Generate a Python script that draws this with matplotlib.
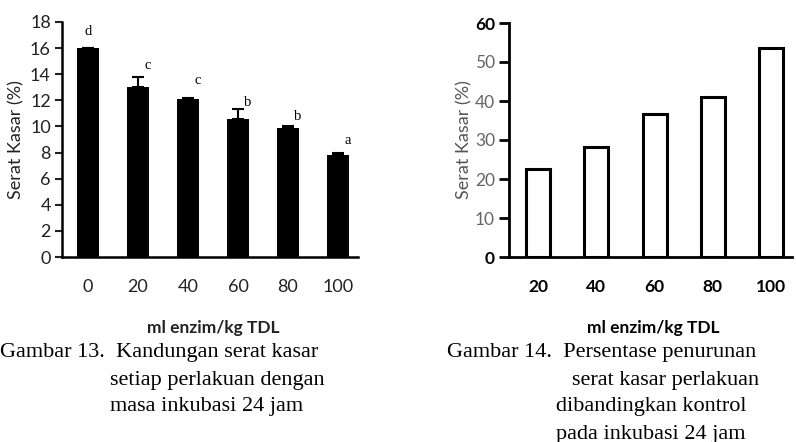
import numpy as np
import matplotlib.pyplot as plt

# Gambar 13 data
dose13 = ['0', '20', '40', '60', '80', '100']
serat13 = [16.0, 13.0, 12.1, 10.6, 9.9, 7.8]
err13 = [0.0, 0.8, 0.1, 0.7, 0.15, 0.15]
notasi13 = ['d', 'c', 'c', 'b', 'b', 'a']
notasi_y13 = [17.3, 14.65, 13.5, 11.8, 10.75, 8.95]

# Gambar 14 data
dose14 = ['20', '40', '60', '80', '100']
turun14 = [22.6, 28.1, 36.7, 41.0, 53.5]

sans = 'Lato'
serif = 'Liberation Serif'

fig = plt.figure(figsize=(7.96, 4.42), dpi=100)

# ---- left chart
ax1 = fig.add_axes([62 / 796, 1 - 257 / 442, 296 / 796, 235 / 442])
x1 = np.arange(len(dose13))
ax1.bar(x1, serat13, width=0.44, color='black')
ax1.errorbar(x1, serat13, yerr=[np.zeros(len(err13)), err13], fmt='none',
             ecolor='black', elinewidth=1.5, capsize=4, capthick=1.5)
for i, (lab, yy) in enumerate(zip(notasi13, notasi_y13)):
    dx = 0 if i == 0 else 0.2
    ax1.text(i + dx, yy, lab, family=serif, fontsize=10.5, ha='center', va='center')
ax1.set_xlim(-0.52, 5.4)
ax1.set_ylim(0, 18)
ax1.set_yticks(range(0, 19, 2))
ax1.set_xticks(x1)
ax1.set_xticklabels(dose13)
ax1.tick_params(axis='y', length=5, width=1.5, labelsize=13, colors='#222222', pad=3)
ax1.tick_params(axis='x', length=0, labelsize=13, colors='#222222', pad=16)
for lab in ax1.get_xticklabels() + ax1.get_yticklabels():
    lab.set_family(sans)
ax1.spines['top'].set_visible(False)
ax1.spines['right'].set_visible(False)
ax1.spines['left'].set_linewidth(1.8)
ax1.spines['bottom'].set_linewidth(1.8)
ax1.set_ylabel('Serat Kasar (%)', family=sans, fontsize=13, color='#222222')
ax1.yaxis.set_label_coords((24 - 62) / 296, 0.5)
fig.text(213 / 796, 1 - 328 / 442, 'ml enzim/kg TDL', family=sans, fontsize=12.5,
         fontweight='bold', ha='center', va='center', color='#222222')

# ---- right chart
ax2 = fig.add_axes([509 / 796, 1 - 257 / 442, 283 / 796, 234 / 442])
x2 = np.arange(len(dose14))
ax2.bar(x2, turun14, width=0.41, color='white', edgecolor='black', linewidth=2.2)
ax2.set_xlim(-0.5, 4.36)
ax2.set_ylim(0, 60)
ax2.set_yticks(range(0, 61, 10))
ax2.set_xticks(x2)
ax2.set_xticklabels(dose14, fontweight='bold')
ax2.tick_params(axis='y', length=7, width=2, labelsize=12.5, colors='black',
                labelcolor='#666666', pad=3)
ax2.tick_params(axis='x', length=0, labelsize=12.5, pad=16)
for lab in ax2.get_xticklabels() + ax2.get_yticklabels():
    lab.set_family(sans)
for lab in ax2.get_yticklabels():
    if lab.get_text() in ('0', '60'):
        lab.set_fontweight('bold')
        lab.set_color('black')
ax2.spines['top'].set_visible(False)
ax2.spines['right'].set_visible(False)
ax2.spines['left'].set_linewidth(2)
ax2.spines['bottom'].set_linewidth(2)
ax2.set_ylabel('Serat Kasar (%)', family=sans, fontsize=13, color='#555555')
ax2.yaxis.set_label_coords((472 - 509) / 283, 0.5)
fig.text(653 / 796, 1 - 328 / 442, 'ml enzim/kg TDL', family=sans, fontsize=12.5,
         fontweight='bold', ha='center', va='center', color='black')

# ---- captions
cap = dict(family=serif, fontsize=16, ha='left', va='center', color='black')
fig.text(0, 1 - 353 / 442, 'Gambar 13.  Kandungan serat kasar', **cap)
fig.text(110 / 796, 1 - 380 / 442, 'setiap perlakuan dengan', **cap)
fig.text(110 / 796, 1 - 407 / 442, 'masa inkubasi 24 jam', **cap)
fig.text(447 / 796, 1 - 353 / 442, 'Gambar 14.  Persentase penurunan', **cap)
fig.text(572 / 796, 1 - 380 / 442, 'serat kasar perlakuan', **cap)
fig.text(556 / 796, 1 - 407 / 442, 'dibandingkan kontrol', **cap)
fig.text(556 / 796, 1 - 434 / 442, 'pada inkubasi 24 jam', **cap)

fig.savefig('out.png', dpi=100)
